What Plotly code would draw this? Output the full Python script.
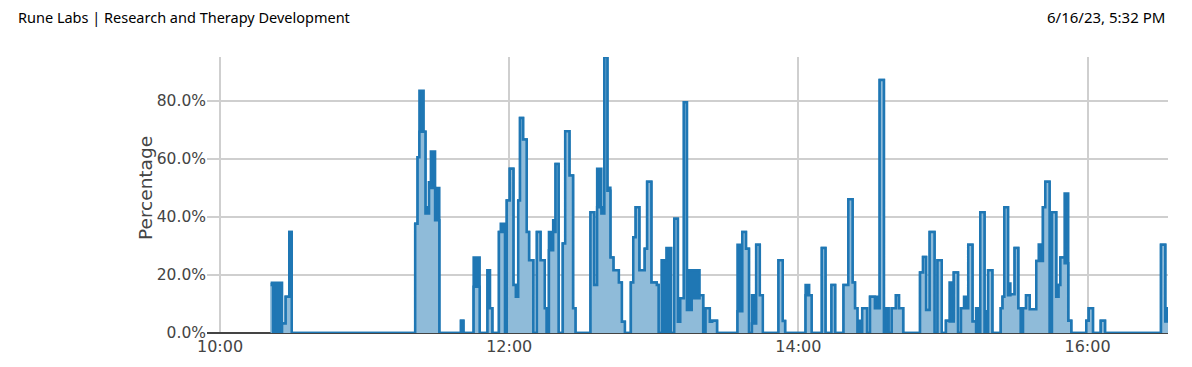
import plotly.graph_objects as go

DAY = "2023-06-16 "

# change-point times of the step series
times = [
    "10:21:00", "10:22:00", "10:23:30", "10:24:30", "10:25:45", "10:27:15", "10:28:45", "10:29:45",
    "11:21:00", "11:22:00", "11:22:45", "11:24:30", "11:25:15", "11:26:45", "11:27:30", "11:29:15", "11:31:00",
    "11:40:00", "11:41:00", "11:45:15", "11:47:45", "11:51:00", "11:52:00", "11:53:00",
    "11:55:45", "11:56:30", "11:58:15", "11:59:00", "12:00:15", "12:01:45", "12:02:45", "12:03:45",
    "12:04:30", "12:05:45", "12:07:15", "12:08:15", "12:10:00",
    "12:11:30", "12:13:00", "12:14:45", "12:15:30",
    "12:16:30", "12:18:15", "12:19:15", "12:20:30", "12:22:15", "12:23:15", "12:25:00", "12:26:30", "12:27:30",
    "12:33:45", "12:35:15", "12:36:30", "12:38:15", "12:39:30", "12:40:45", "12:42:00", "12:43:15",
    "12:45:30", "12:46:45", "12:48:00",
    "12:50:30", "12:51:30", "12:52:30", "12:54:00", "12:56:15", "12:57:15", "12:59:00", "13:01:15", "13:02:00",
    "13:03:15", "13:05:15", "13:07:15", "13:08:30", "13:10:00", "13:11:00", "13:12:30", "13:13:45",
    "13:15:45", "13:19:00", "13:20:30", "13:21:30", "13:23:15", "13:24:15", "13:26:15",
    "13:34:45", "13:36:45", "13:38:15", "13:39:30", "13:40:45", "13:42:30", "13:44:00", "13:45:15",
    "13:51:45", "13:53:30", "13:54:30",
    "14:03:00", "14:04:30", "14:05:30", "14:09:45", "14:11:15", "14:13:45", "14:15:15",
    "14:18:45", "14:20:45", "14:22:30", "14:23:30", "14:24:30", "14:26:30", "14:28:30",
    "14:29:45", "14:31:45", "14:32:45", "14:33:45", "14:35:30", "14:37:30", "14:38:45", "14:40:30",
    "14:41:45", "14:43:30",
    "14:50:30", "14:51:45", "14:53:00", "14:54:30", "14:56:30", "14:57:45", "14:59:30",
    "15:01:15", "15:02:45", "15:04:30", "15:06:15", "15:07:30", "15:08:45", "15:10:30", "15:12:15",
    "15:13:45", "15:15:30", "15:17:15", "15:18:45", "15:20:30",
    "15:24:00", "15:24:45", "15:25:30", "15:27:00", "15:28:00", "15:29:45", "15:31:15", "15:32:15",
    "15:33:15", "15:34:30", "15:36:00", "15:38:45", "15:39:45", "15:41:30", "15:42:30", "15:44:15",
    "15:45:15", "15:47:00", "15:48:00", "15:48:45", "15:50:30", "15:52:00", "15:53:15",
    "15:59:30", "16:00:30", "16:02:15", "16:05:30", "16:07:15",
    "16:30:30", "16:32:15", "16:33:30",
]

# upper envelope of the percentage within each step (%)
pct_high = [
    17.3, 17.3, 0, 17.3, 3.3, 12.5, 34.8, 0,
    37.6, 60.5, 83.4, 69.3, 43.3, 51.9, 62.5, 49.9, 0,
    4.2, 0, 26.0, 0, 21.6, 8.5, 0,
    34.8, 37.6, 37.6, 45.6, 56.5, 16.5, 12.5, 45.6,
    74.0, 66.6, 34.8, 25.0, 0,
    34.8, 25.0, 8.5, 0,
    34.8, 38.8, 58.2, 0, 30.8, 69.4, 54.2, 8.5, 0,
    41.6, 16.5, 56.5, 43.3, 95.0, 50.0, 26.0, 21.6,
    17.4, 3.9, 0,
    17.4, 33.0, 43.3, 21.6, 29.0, 52.1, 17.4, 16.5, 0,
    25.0, 29.3, 0, 39.3, 3.9, 12.0, 79.4, 21.6,
    21.6, 13.0, 0, 8.5, 3.9, 4.2, 0,
    30.4, 34.8, 29.0, 0, 13.0, 30.4, 13.0, 0,
    25.0, 4.1, 0,
    16.5, 13.0, 0, 29.3, 0, 16.5, 0,
    16.5, 46.0, 17.4, 8.5, 4.2, 8.5, 0,
    12.5, 8.5, 12.5, 87.1, 8.5, 0, 8.5, 13.0,
    8.5, 0,
    20.8, 26.2, 7.9, 34.8, 0, 25.0, 0,
    4.2, 17.4, 20.8, 0, 8.5, 12.5, 30.4, 4.0,
    8.5, 41.6, 7.5, 21.6, 0,
    8.5, 12.5, 43.3, 17.0, 13.3, 29.3, 8.5, 8.5,
    8.5, 13.0, 8.2, 24.8, 30.5, 43.3, 52.1, 0,
    41.6, 12.5, 16.5, 26.0, 48.0, 4.2, 0,
    4.2, 8.5, 0, 4.2, 0,
    30.4, 8.5, 8.5,
]

# lower envelope of the percentage within each step (%)
pct_low = [
    16.5, 0, 0, 0, 3.3, 12.5, 34.8, 0,
    37.6, 60.5, 69.3, 69.3, 41.1, 51.9, 49.9, 38.8, 0,
    4.2, 0, 15.9, 0, 21.6, 8.5, 0,
    34.8, 34.8, 0, 45.6, 56.5, 16.5, 12.5, 45.6,
    74.0, 66.6, 34.8, 25.0, 0,
    34.8, 25.0, 8.5, 0,
    28.5, 34.8, 58.2, 0, 30.8, 69.4, 54.2, 8.5, 0,
    41.6, 16.5, 43.3, 41.1, 95.0, 49.0, 26.0, 21.6,
    17.4, 3.9, 0,
    17.4, 33.0, 43.3, 21.6, 29.0, 52.1, 17.4, 16.5, 0,
    0, 0, 0, 39.3, 3.9, 12.0, 79.4, 7.9,
    12.0, 13.0, 0, 8.5, 3.9, 4.2, 0,
    7.5, 34.8, 29.0, 0, 3.3, 30.4, 13.0, 0,
    25.0, 4.1, 0,
    13.0, 13.0, 0, 29.3, 0, 16.5, 0,
    16.5, 46.0, 17.4, 8.5, 0, 8.5, 0,
    12.5, 8.5, 8.5, 87.1, 0, 0, 8.5, 13.0,
    8.5, 0,
    20.8, 26.2, 7.9, 34.8, 0, 25.0, 0,
    4.2, 4.0, 20.8, 0, 8.5, 8.5, 30.4, 4.0,
    0, 41.6, 0, 21.6, 0,
    8.5, 12.5, 43.3, 13.0, 13.3, 29.3, 8.5, 0,
    8.5, 13.0, 8.2, 24.8, 24.8, 43.3, 52.1, 0,
    41.6, 12.5, 16.5, 26.0, 24.0, 4.2, 0,
    4.2, 8.5, 0, 4.2, 0,
    30.4, 4.0, 8.5,
]

x_start = "09:54:36"
x_end = "16:33:24"
y_ticks = [0.0, 0.2, 0.4, 0.6, 0.8]
y_max = 0.95
y_title = "Percentage"
header_left = "Rune Labs | Research and Therapy Development"
header_right = "6/16/23, 5:32 PM"

xs = [DAY + t for t in times]
hi = [v / 100 for v in pct_high]
lo = [v / 100 for v in pct_low]

DARK = "#1f77b4"
LIGHT = "rgb(143,187,217)"

fig = go.Figure()
fig.add_trace(go.Scatter(
    x=xs, y=hi, mode="lines", line=dict(color=DARK, width=2.5, shape="hv"),
    fill="tozeroy", fillcolor=DARK, hoverinfo="skip", showlegend=False))
fig.add_trace(go.Scatter(
    x=xs, y=lo, mode="lines", line=dict(color=DARK, width=2.5, shape="hv"),
    fill="tozeroy", fillcolor=LIGHT, showlegend=False))

PW, PH, L, B = 961, 276, 207, 333
fig.update_layout(
    width=1192, height=367,
    margin=dict(l=207, r=24, t=57, b=34),
    paper_bgcolor="white", plot_bgcolor="white",
    xaxis=dict(
        range=[DAY + x_start, DAY + x_end], type="date",
        dtick=2 * 3600 * 1000, tick0=DAY + "10:00", tickformat="%H:%M",
        showgrid=True, gridcolor="#cfcfcf", gridwidth=1.5,
        zeroline=False, showline=False, ticks="", ticklabelstandoff=2,
        tickfont=dict(family="DejaVu Sans", size=16, color="#444"),
    ),
    yaxis=dict(
        range=[0, y_max], tickvals=y_ticks, tickformat=".1%",
        showgrid=True, gridcolor="#cfcfcf", gridwidth=1.5,
        zeroline=True, zerolinecolor="#444", zerolinewidth=2,
        showline=False, ticks="",
        tickfont=dict(family="DejaVu Sans", size=15.5, color="#444"),
    ),
    annotations=[
        dict(text=y_title, xref="paper", yref="paper", x=(145 - L) / PW, y=(B - 188) / PH,
             xanchor="center", yanchor="middle", textangle=-90, showarrow=False,
             font=dict(family="DejaVu Sans", size=18.5, color="#444")),
        dict(text=header_left, xref="paper", yref="paper", x=(16 - L) / PW, y=(B - 17) / PH,
             xanchor="left", yanchor="middle", showarrow=False,
             font=dict(family="Noto Sans", size=14.5, color="#000")),
        dict(text=header_right, xref="paper", yref="paper", x=(1167 - L) / PW, y=(B - 17) / PH,
             xanchor="right", yanchor="middle", showarrow=False,
             font=dict(family="Noto Sans", size=15, color="#000")),
    ],
)

fig.write_html("out.html")
